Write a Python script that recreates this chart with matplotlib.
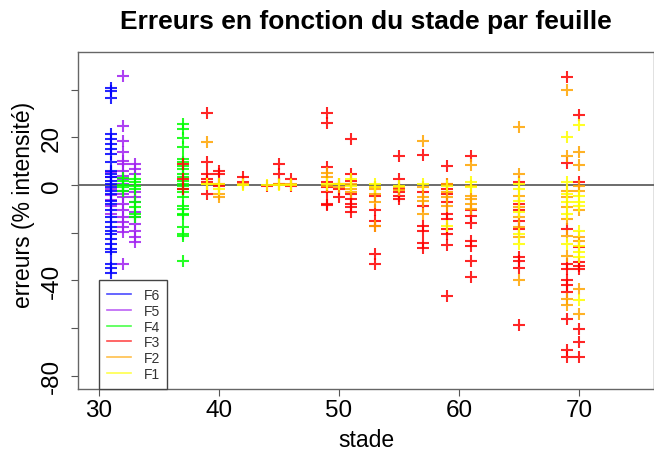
import matplotlib
matplotlib.use('Agg')
import matplotlib.pyplot as plt

plt.rcParams['font.family'] = ['Liberation Sans', 'DejaVu Sans']

# errors (% intensity) per leaf, keyed by stage
f6 = {31: [40.9, 39.5, 36.3, 21.3, 19.2, 17.2, 15.1, 13, 9.5, 6, 4.5, 3.2, 1.8, 0.4, -1,
           -2.4, -3.8, -6.6, -7.9, -10.7, -13.5, -15.6, -17.7, -19.1, -20.5, -22.6,
           -24.7, -26.8, -28.2, -33, -34.7, -36.9]}
f5 = {31: [5.5, 3.5, -1.5, -4, -6.5, -9, -12],
      32: [45.7, 24.8, 18.5, 13.7, 10.2, 8.8, 6, 3.9, 2.5, 0.4, -2.4, -3.8, -5.2, -7.9,
           -10.7, -13.5, -15.6, -17.7, -19.8, -33],
      33: [8.8, 6.7, 4.6, -3.1, -5.2, -7.2, -11.4, -13.5, -16.3, -19.1, -21.9, -24]}
f4 = {32: [3, 1.5, 0, -1, -2.5],
      33: [2.5, 1.1, -0.3, -1.7, -7.2, -9.3, -12.1, -13.5],
      37: [25.5, 23.4, 19.9, 15.8, 10.9, 9.5, 8.1, 6.7, 4.6, 3.2, 1.8, 0.4, -0.6, -1.7,
           -3.1, -5.2, -8.7, -10, -12.1, -12.8, -17.7, -20.5, -21.2, -31.9]}
f3 = {37: [8.8, 2.5, -1.7],
      39: [30.1, 9.5, 4.6, 2.5, 1.1, -3.8],
      40: [6, 4.6, 0.4, -0.6],
      42: [3.2, 1.1],
      44: [-0.3],
      45: [8.8, 4.6, 0.4],
      46: [2.5, -0.6],
      49: [30.1, 25.9, 7.4, 1.1, -1, -3.1, -7.9, -8.5],
      50: [0.4, -1.7, -5.2],
      51: [19.5, 4.6, 1.8, -3.8, -5.9, -7.9, -9.3, -11.4],
      53: [-1, -4.5, -10.7, -14.9, -17, -28.9, -33],
      55: [12.3, 2.5, -1.7, -2.8, -4.5, -5.9],
      57: [12.6, -3.1, -8.7, -17, -19.1, -24.3, -26.5],
      59: [7.8, 0.4, -1.7, -3.8, -7.2, -12.1, -14.2, -18.4, -20.5, -25.1, -46.7],
      61: [12.3, -10.7, -13.1, -15.9, -23.3, -25.6, -31.7, -38.6],
      65: [1.1, -7.9, -10.7, -14.9, -18.4, -30.3, -31.7, -34.7, -58.9],
      69: [45.3, 9.1, -18.4, -33, -35.1, -40, -42.1, -44.9, -56.1, -69.3, -72.1],
      70: [29.4, 1.1, -26.1, -32.3, -33.8, -35.1, -60.3, -65.8, -72.1]}
f2 = {39: [17.9, 0.4],
      40: [-3.8, -5.2],
      42: [0.4],
      45: [0.4],
      46: [0.4],
      49: [5, 3.2, -0.6],
      50: [0.4, -1],
      51: [0.4, -1.7, -3.1],
      53: [-1.7, -3.8, -7.2, -17],
      55: [-1, -2],
      57: [18.5, -1, -5.2, -6.6, -12.1],
      59: [0.4, -3, -5, -8.7],
      61: [8.4, -0.3, -4.5, -5.9, -8, -10],
      65: [24.4, 4.6, -4.5, -9.3, -13.5, -17.7, -21.9, -39.7],
      69: [39.7, 12.3, -2.4, -5.2, -9.3, -14.2, -21.2, -29.6, -47.7, -50.5],
      70: [13.7, 8.5, -0.3, -2.4, -10.7, -21.9, -23.3, -43.5, -54]}
f1 = {39: [0.4],
      40: [0.4, -1.7],
      42: [-0.2],
      44: [0],
      45: [0],
      46: [0],
      49: [0.4],
      50: [0.4],
      51: [2.5, -0.3],
      53: [0.4, -1],
      55: [-0.3],
      57: [0.4],
      59: [-0.5, -17],
      61: [1.1, -1],
      65: [0.4, -1.7, -6.6, -11.4, -20.5, -24.7],
      69: [20.2, 1.1, -3.8, -7.2, -12.1, -24.7],
      70: [25.1, -4.5, -7.2, -8.7, -19.1, -25.4, -28.2, -30.3, -48.4]}

leaves = ['F6', 'F5', 'F4', 'F3', 'F2', 'F1']
data = {'F6': f6, 'F5': f5, 'F4': f4, 'F3': f3, 'F2': f2, 'F1': f1}
colors = {'F6': '#0000FF', 'F5': '#A020F0', 'F4': '#00FF00',
          'F3': '#FF0000', 'F2': '#FFA500', 'F1': '#FFFF00'}
draw_order = ['F5', 'F6', 'F4', 'F3', 'F2', 'F1']

fig = plt.figure(figsize=(6.54, 4.52), dpi=100)
ax = fig.add_axes([78 / 654, 1 - 390 / 452, 1 - 78 / 654, 337 / 452])

for leaf in draw_order:
    xs, ys = [], []
    for st, vals in data[leaf].items():
        xs += [st] * len(vals)
        ys += vals
    ax.plot(xs, ys, linestyle='none', marker='+', ms=8, mew=1.5,
            color=colors[leaf], alpha=0.85)

ax.axhline(0, color='#444444', lw=1.1, zorder=0)

ax.set_xlim(28.25, 76.25)
ax.set_ylim(-85.6, 55.8)
ax.set_xticks([30, 40, 50, 60, 70])
ax.set_yticks([40, 20, 0, -20, -40, -60, -80])
ax.set_yticklabels(['', '20', '0', '', '-40', '', '-80'], rotation=90, va='center')
ax.tick_params(direction='out', length=5, width=0.8, color='#555555',
               labelsize=17.5, pad=2)
ax.tick_params(axis='y', pad=6)
for s in ax.spines.values():
    s.set_color('#666666')
    s.set_linewidth(1)

ax.set_xlabel('stade', fontsize=16.5)
ax.xaxis.set_label_coords(0.5, -51 / 337)
ax.xaxis.label.set_va('center')
ax.set_ylabel('erreurs (% intensité)', fontsize=16.5)
ax.yaxis.set_label_coords(-54 / 576, 1 - (205 - 53) / 337)
ax.yaxis.label.set_va('center')

fig.text(366 / 654, 1 - 22 / 452, 'Erreurs en fonction du stade par feuille',
         fontsize=19, fontweight='bold', ha='center', va='center')

handles = [plt.Line2D([], [], color=colors[l], lw=1.2, alpha=0.7) for l in leaves]
leg = ax.legend(handles, leaves, loc='lower left',
                bbox_to_anchor=(21 / 576, 0, 68 / 576, 0.3), mode='expand',
                borderaxespad=0, fontsize=10, handlelength=1.7, labelspacing=0.12,
                borderpad=0.6, handletextpad=0.9, fancybox=False, framealpha=1)
leg.get_frame().set_edgecolor('#444444')
leg.get_frame().set_linewidth(1)
for t in leg.get_texts():
    t.set_color('#333333')

fig.savefig('out.png', dpi=100)
